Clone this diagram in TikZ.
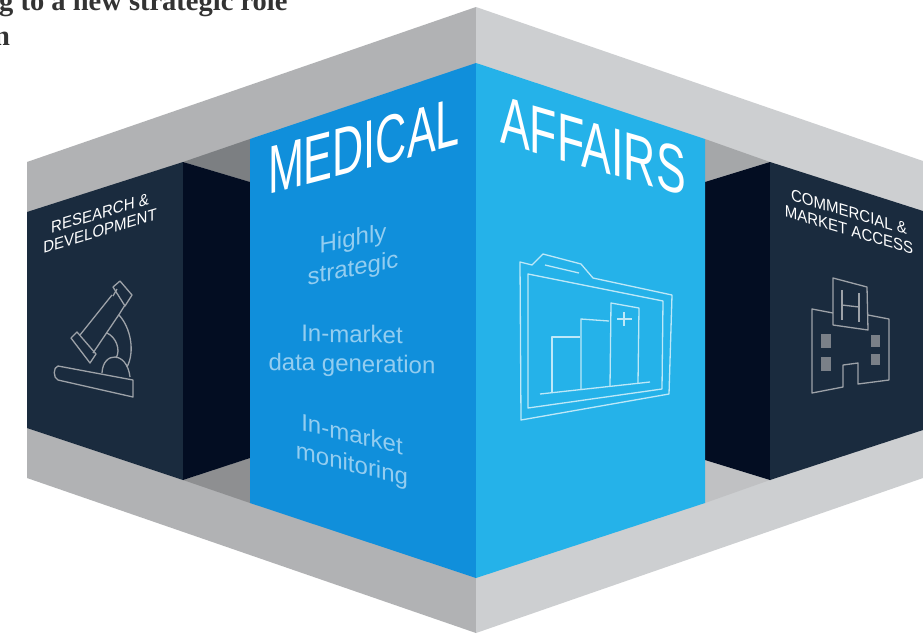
\documentclass[tikz,border=0pt]{standalone}
\usepackage{fontspec}
\setmainfont{Liberation Sans}
\newfontfamily\headfont{Liberation Serif}
\definecolor{grayL}{HTML}{B1B2B4}
\definecolor{grayR}{HTML}{CDCFD1}
\definecolor{wedgeTL}{HTML}{7C7F82}
\definecolor{wedgeBL}{HTML}{8E8F91}
\definecolor{wedgeTR}{HTML}{A5A7A9}
\definecolor{wedgeBR}{HTML}{C0C1C3}
\definecolor{navy}{HTML}{1A2B3E}
\definecolor{navyD}{HTML}{030D22}
\definecolor{blueL}{HTML}{108FDB}
\definecolor{blueR}{HTML}{25B2E9}
\definecolor{softL}{HTML}{93CDF0}
\definecolor{softR}{HTML}{BDE8F8}
\definecolor{iconG}{HTML}{9DA2A8}
\definecolor{winG}{HTML}{7A8088}
\tikzset{
 x=1pt,y=-1pt,
 lab/.style={inner sep=0pt,align=center,font=\fontsize{16.5}{18}\selectfont,text=white,xscale=.91},
 big/.style={inner sep=0pt,font=\fontsize{68}{68}\selectfont,text=white},
 soft/.style={inner sep=0pt,align=center,font=\fontsize{24}{29.5}\selectfont,text=softL},
 ico/.style={draw=iconG,line width=1.3pt,line join=round},
 fold/.style={draw=softR,line width=1.3pt,line join=round},
 head/.style={anchor=base west,inner sep=0pt,font=\headfont\bfseries\fontsize{28.5}{28.5}\selectfont,text=black!80}
}
\begin{document}
\begin{tikzpicture}
\useasboundingbox (0,0) rectangle (923,633);
\fill[white] (0,0) rectangle (923,633);
% frame
\fill[grayL] (476,7)--(27,162)--(27,478)--(476,633)--cycle;
\fill[grayR] (476,7)--(923,161)--(923,478)--(476,633)--cycle;
% wedges
\fill[wedgeTL] (183,162)--(250,139)--(250,182)--cycle;
\fill[wedgeBL] (183,480)--(250,503)--(250,458)--cycle;
\fill[wedgeTR] (705,139)--(770,162)--(705,182)--cycle;
\fill[wedgeBR] (705,503)--(770,480)--(705,460)--cycle;
% side boxes
\fill[navy] (27,212)--(183,162)--(183,480)--(27,428)--cycle;
\fill[navyD] (183,162)--(250,182)--(250,458)--(183,480)--cycle;
\fill[navyD] (705,182)--(770,162)--(770,480)--(705,460)--cycle;
\fill[navy] (770,162)--(923,211)--(923,430)--(770,480)--cycle;
% central block
\fill[blueL] (250,139)--(476,63)--(476,578)--(250,503)--cycle;
\fill[blueR] (476,63)--(705,139)--(705,503)--(476,578)--cycle;
% heading
\node[head] (h1) at (-1,10) {g to a new strategic role};
\node[head] (h2) at (-6,45) {n};
% labels
\node[lab,yslant=.27] (rd) at (100,222) {RESEARCH \&\\DEVELOPMENT};
\node[lab,yslant=-.27] (cm) at (849,221) {COMMERCIAL \&\\MARKET ACCESS};
\node[big,yslant=.26,xscale=.635] (med) at (364,146) {MEDICAL};
\node[big,yslant=-.29,xscale=.655] (aff) at (593,146) {AFFAIRS};
\node[soft,yslant=.2] (s1) at (353,255) {Highly\\strategic};
\node[soft,yslant=-.02] (s2) at (352,351) {In-market\\data generation};
\node[soft,yslant=-.24] (s3) at (352,451) {In-market\\monitoring};
% microscope
\draw[ico] (58,366)--(133,380)--(133,397)--(58,380) .. controls (53,378) and (53,367) .. (58,366)--cycle;
\draw[ico] (71,338)--(77,332)--(96,354)--(90,363)--cycle;
\draw[ico] (80,335)--(112,295);
\draw[ico] (93,353)--(120,313);
\draw[ico] (113,296)--(117,289);
\draw[ico] (120,313)--(125,305);
\draw[ico] (113,287)--(120,281)--(132,295)--(125,306)--cycle;
\draw[ico] (119,315) .. controls (131,328) and (135,352) .. (127,367);
\draw[ico] (107,333) .. controls (116,337) and (121,350) .. (116,358);
\draw[ico] (102,373) .. controls (103,351) and (127,351) .. (130,377);
% folder
\draw[fold] (520,262)--(532,265)--(543,254)--(581,264)--(593,278)--(672,295)--(669,394)--(521,420)--cycle;
\draw[fold] (528,274)--(663,301)--(662,389)--(528,408)--cycle;
\draw[fold] (545,265)--(579,273);
\draw[fold] (540,394)--(650,382);
\draw[fold] (552,392)--(552,337)--(580,337);
\draw[fold] (581,390)--(581,319)--(609,321);
\draw[fold] (610,386)--(611,303)--(639,308)--(638,383);
\draw[fold] (617,319)--(632,319);
\draw[fold] (624,312)--(624,326);
% hospital
\draw[ico] (833,313)--(812,309)--(812,393)--(843,387)--(843,365)--(858,363)--(858,384)--(889,380)--(889,319)--(868,315);
\draw[ico] (833,278)--(867,287)--(868,330)--(833,325)--cycle;
\draw[ico] (842,290)--(842,320);
\draw[ico] (859,293)--(859,322);
\draw[ico] (842,305)--(859,307);
\fill[winG] (821,334) rectangle (831,348);
\fill[winG] (821,357) rectangle (831,371);
\fill[winG] (871,335) rectangle (880,347);
\fill[winG] (871,354) rectangle (880,365);
\end{tikzpicture}
\end{document}
